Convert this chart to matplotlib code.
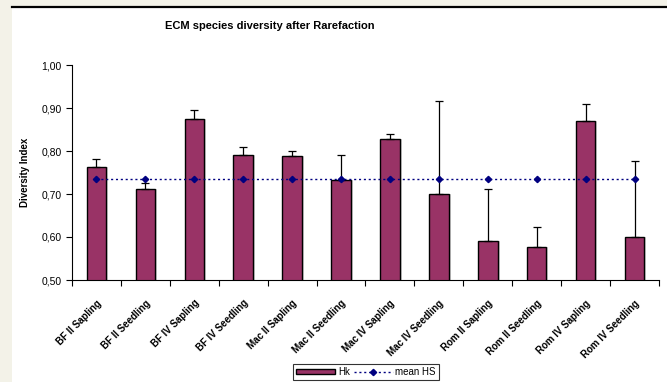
import matplotlib.pyplot as plt
import matplotlib.patches as mpatches
from matplotlib.ticker import FuncFormatter, FixedLocator
import numpy as np

plt.rcParams['font.family'] = ['Liberation Sans', 'DejaVu Sans']

# 数据
categories = ['BF II Sapling', 'BF II Seedling', 'BF IV Sapling', 'BF IV Seedling',
              'Mac II Sapling', 'Mac II Seedling', 'Mac IV Sapling', 'Mac IV Seedling',
              'Rom II Sapling', 'Rom II Seedling', 'Rom IV Sapling', 'Rom IV Seedling']
hk = [0.763, 0.711, 0.874, 0.791, 0.789, 0.733, 0.827, 0.701, 0.590, 0.577, 0.870, 0.601]
hk_err = [0.018, 0.015, 0.022, 0.019, 0.012, 0.058, 0.012, 0.216, 0.122, 0.046, 0.040, 0.175]
mean_hs = [0.735] * 12

bar_color = '#993366'
x = np.arange(len(categories))

fig = plt.figure(figsize=(6.67, 3.82), dpi=100)
fig.patch.set_facecolor('#f3f2e8')
# 白色面板 + 顶部黑线
fig.add_artist(mpatches.Rectangle((12 / 667, 0), 1 - 12 / 667, 1 - 7 / 382,
                                  transform=fig.transFigure, facecolor='white',
                                  edgecolor='none', zorder=0))
fig.add_artist(plt.Line2D([12 / 667, 1], [1 - 7 / 382, 1 - 7 / 382],
                          transform=fig.transFigure, color='black', lw=1.6))

ax = fig.add_axes([72 / 667, 1 - 280 / 382, 587 / 667, 215 / 382])
ax.set_facecolor('white')

# 阴影
ax.bar(x + 0.04, hk, width=0.4, bottom=0, color='#d4d4d4', zorder=1)
bars = ax.bar(x, hk, width=0.4, color=bar_color, edgecolor='black', linewidth=1.0,
              zorder=2, label='Hk')
ax.errorbar(x, hk, yerr=[np.zeros(len(hk)), hk_err], fmt='none', ecolor='black',
            elinewidth=0.9, capsize=3, capthick=0.9, zorder=3)
line, = ax.plot(x, mean_hs, linestyle=(0, (1.5, 2.0)), color='#000080', lw=1.0,
                marker='D', markersize=3.2, zorder=4, label='mean HS')

ax.set_xlim(-0.5, 11.5)
ax.set_ylim(0.5, 1.0)
ax.set_yticks(np.arange(0.5, 1.001, 0.1))
ax.yaxis.set_major_formatter(FuncFormatter(lambda v, p: ('%.2f' % v).replace('.', ',')))
ax.tick_params(axis='y', labelsize=7.5, length=4, width=0.8, direction='out')

ax.xaxis.set_major_locator(FixedLocator(x))
ax.xaxis.set_minor_locator(FixedLocator(np.arange(-0.5, 12, 1)))
ax.set_xticklabels(categories, rotation=45, ha='right', va='top',
                   rotation_mode='anchor', fontsize=7, fontweight='bold')
ax.tick_params(axis='x', which='major', length=0, pad=13)
ax.tick_params(axis='x', which='minor', length=4, width=0.8, direction='out')

for s in ['top', 'right']:
    ax.spines[s].set_visible(False)
ax.spines['left'].set_linewidth(0.8)
ax.spines['bottom'].set_linewidth(0.8)

ax.set_ylabel('Diversity Index', fontsize=7, fontweight='bold', labelpad=8)

fig.text(0.405, 1 - 26 / 382, 'ECM species diversity after Rarefaction',
         ha='center', va='center', fontsize=8, fontweight='bold')

leg = fig.legend([bars, line], ['Hk', 'mean HS'], loc='center',
                 bbox_to_anchor=(366 / 667, 1 - 372 / 382), ncol=2,
                 fontsize=7, frameon=True, fancybox=False, edgecolor='black',
                 handlelength=4.0, handleheight=0.5, borderpad=0.35, columnspacing=0.4,
                 handletextpad=0.3)
leg.get_frame().set_linewidth(0.8)

fig.savefig('out.png', dpi=100, facecolor=fig.get_facecolor())
